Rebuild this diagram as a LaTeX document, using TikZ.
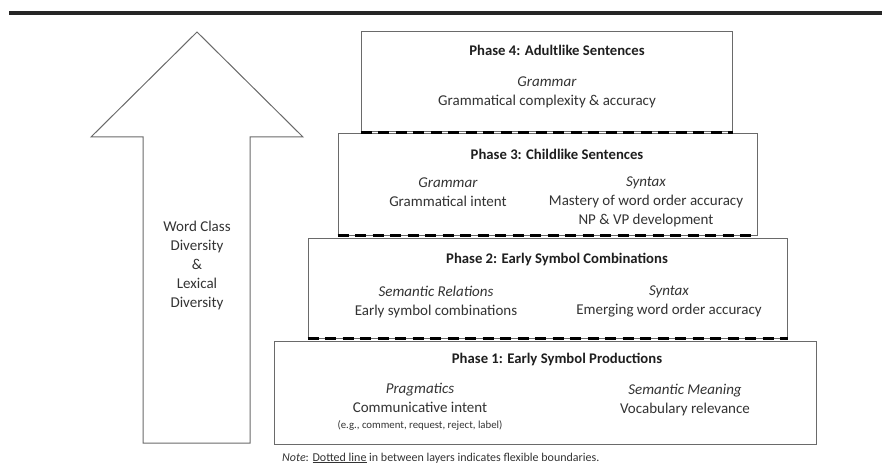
\documentclass[tikz,border=0pt]{standalone}
\usepackage{fontspec}
\setmainfont{Carlito}
\usetikzlibrary{positioning}
\definecolor{edgegrey}{HTML}{6A6A6A}
\definecolor{inkgrey}{HTML}{333333}

\begin{document}
\begin{tikzpicture}[
    x=1pt, y=-1pt,
    layer/.style={draw=edgegrey, line width=1pt, fill=white, inner sep=0pt},
    phasetitle/.style={font=\bfseries\fontsize{14.7}{18}\selectfont, text=black!88},
    body/.style={align=center, font=\fontsize{15}{19}\selectfont, text=inkgrey},
    flexline/.style={line width=2.6pt, dash pattern=on 11pt off 6.5pt}
]
    \useasboundingbox (0,0) rectangle (882,470);

    % heavy rule across the top
    \draw[line width=4pt, black!85] (9,13) -- (882,13);

    % Growth arrow on the left
    \draw[edgegrey, line width=1pt, fill=white]
        (197,32) -- (303,137) -- (250,137) -- (250,443) -- (143,443)
        -- (143,137) -- (91,137) -- cycle;
    \node[body] (growth) at (197,265.5) {Word Class\\Diversity\\\&\\Lexical\\Diversity};

    % Four stacked layers, widest at the bottom
    \node[layer, minimum width=542pt, minimum height=103pt] (p1) at (545,392.5) {};
    \node[layer, minimum width=479pt, minimum height=100pt] (p2) at (547.5,288) {};
    \node[layer, minimum width=419pt, minimum height=101pt] (p3) at (547.5,184.5) {};
    \node[layer, minimum width=371pt, minimum height=100pt] (p4) at (546.5,82) {};

    % flexible boundaries between layers
    \draw[flexline] (p2.south west) -- (p2.south east);
    \draw[flexline] (p3.south west) -- (p3.south east);
    \draw[flexline] (p4.south west) -- (p4.south east);

    % Phase 1
    \node[phasetitle] (t1) at (557,359) {Phase 1: Early Symbol Productions};
    \node[body] (prag) at (420,407) {\textit{Pragmatics}\\Communicative intent\\[-3pt]
        {\fontsize{10.8}{12}\selectfont (e.g., comment, request, reject, label)}};
    \node[body] (meaning) at (685,400) {\textit{Semantic Meaning}\\Vocabulary relevance};

    % Phase 2
    \node[phasetitle] (t2) at (557,259) {Phase 2: Early Symbol Combinations};
    \node[body] (rel) at (436,301.5) {\textit{Semantic Relations}\\Early symbol combinations};
    \node[body] (syn2) at (669,301.5) {\textit{Syntax}\\Emerging word order accuracy};

    % Phase 3
    \node[phasetitle] (t3) at (557,154) {Phase 3: Childlike Sentences};
    \node[body] (gram3) at (448,192.5) {\textit{Grammar}\\Grammatical intent};
    \node[body] (syn3) at (646,202) {\textit{Syntax}\\Mastery of word order accuracy\\NP \& VP development};

    % Phase 4
    \node[phasetitle] (t4) at (557,50) {Phase 4: Adultlike Sentences};
    \node[body] (gram4) at (547,92) {\textit{Grammar}\\Grammatical complexity \& accuracy};

    % note under the layers
    \node[anchor=west, inner sep=0pt, text=inkgrey, font=\fontsize{12}{14}\selectfont] (note) at (282,458)
        {\textit{Note}: \underline{Dotted line} in between layers indicates flexible boundaries.};
\end{tikzpicture}
\end{document}
